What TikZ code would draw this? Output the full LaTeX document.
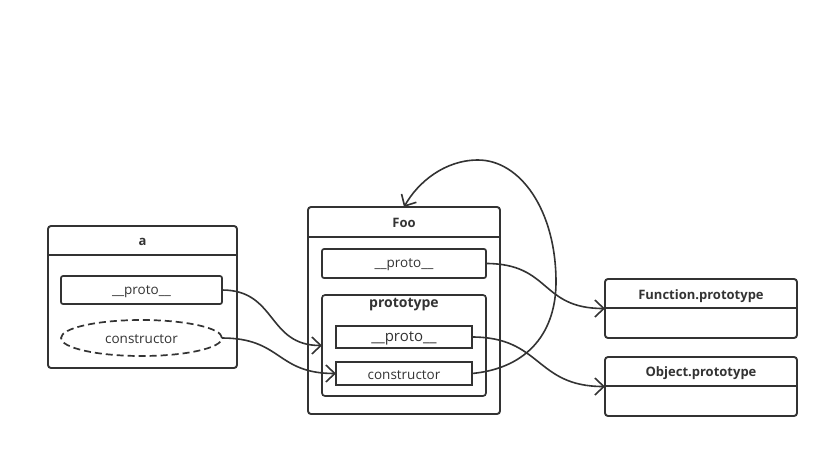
\documentclass[tikz,border=0pt]{standalone}
\usepackage{fontspec}
\setmainfont{Open Sans}
\usetikzlibrary{arrows.meta,shapes.geometric}
\definecolor{ink}{HTML}{333333}
\begin{document}
\begin{tikzpicture}[x=1pt,y=-1pt,
  every node/.style={inner sep=0pt,outer sep=0pt,text=ink},
  frame/.style={draw=ink,line width=1.9pt,rounded corners=3pt,anchor=north west},
  field/.style={draw=ink,line width=1.7pt,rounded corners=2pt,anchor=north west},
  sfield/.style={draw=ink,line width=1.7pt,anchor=north west},
  ftext/.style={font=\fontsize{13.5}{15}\selectfont},
  title/.style={font=\bfseries\fontsize{13}{15}\selectfont},
  hline/.style={draw=ink,line width=1.9pt},
  arr/.style={draw=ink,line width=1.6pt,-{Straight Barb[length=9pt,width=17pt,line width=1.6pt]}}
]
\useasboundingbox (0,0) rectangle (830,448);
% box a
\node[frame,minimum width=189,minimum height=142] (a) at (48,226) {};
\node[title] (at) at (142.5,242) {a};
\draw[hline] (48,255) -- (237,255);
\node[field,minimum width=161,minimum height=28] (ap) at (61,276) {};
\node[ftext] (apt) at (141.5,291.5) {\_\_proto\_\_};
\node[ellipse,draw=ink,line width=1.7pt,dashed,dash pattern=on 7pt off 4pt,minimum width=161,minimum height=36] (ac) at (141.5,338) {};
\node[ftext] (act) at (141.5,339) {constructor};
% Foo
\node[frame,minimum width=192,minimum height=207] (foo) at (308,207) {};
\node[title] (foot) at (404,223) {Foo};
\draw[hline] (308,237) -- (500,237);
\node[field,minimum width=164,minimum height=29] (fp) at (322,249) {};
\node[ftext] (fpt) at (404,265) {\_\_proto\_\_};
\node[frame,line width=1.7pt,minimum width=164,minimum height=101] (pbox) at (322,295) {};
\node[font=\bfseries\fontsize{14}{16}\selectfont] (pboxt) at (404,305) {prototype};
\node[sfield,minimum width=136,minimum height=22] (pp) at (336,326) {};
\node[font=\fontsize{15}{17}\selectfont] (ppt) at (404,338.5) {\_\_proto\_\_};
\node[sfield,minimum width=136,minimum height=23] (pc) at (336,362) {};
\node[ftext] (pct) at (404,375) {constructor};
% Function.prototype
\node[frame,minimum width=192,minimum height=59] (fn) at (605,279) {};
\node[title] (fnt) at (701,296) {Function.prototype};
\draw[hline] (605,308) -- (797,308);
% Object.prototype
\node[frame,minimum width=192,minimum height=59] (ob) at (605,357) {};
\node[title] (obt) at (701,373) {Object.prototype};
\draw[hline] (605,386) -- (797,386);
% connectors
\draw[arr] (ap.east) .. controls +(55,0) and +(-55,0) .. (pbox.west);
\draw[arr] (ac.east) .. controls +(60,0) and +(-60,0) .. (pc.west);
\draw[arr] (fp.east) .. controls +(65,0) and +(-65,0) .. (fn.west);
\draw[arr] (pp.east) .. controls +(70,0) and +(-70,0) .. (ob.west);
\coordinate (loopR) at (556,282);
\coordinate (loopT) at (478,160);
\draw[arr] (pc.east) .. controls (530,368) and (556,330) .. (loopR)
  .. controls (556,210) and (520,160) .. (loopT)
  .. controls (445,160) and (418,182) .. (foo.north);
\end{tikzpicture}
\end{document}
